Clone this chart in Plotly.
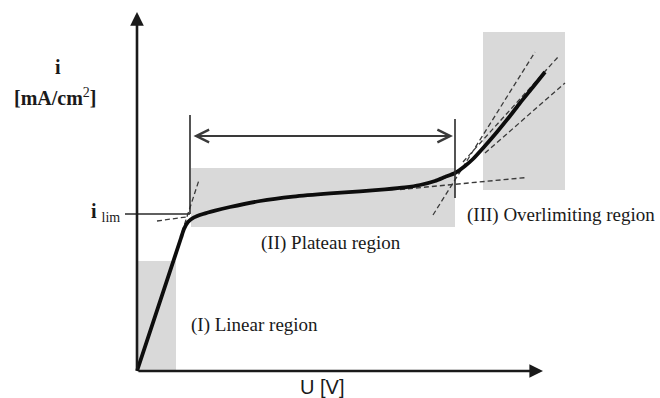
import plotly.graph_objects as go

# Current–voltage characteristic of an ion-exchange membrane (arbitrary units)
U = [0.0, 1.1, 1.175, 1.275, 1.425, 1.65, 1.95, 2.325, 3.075, 3.9, 4.825, 5.575,
     6.2, 6.7, 7.075, 7.45, 7.7, 7.95, 8.2, 8.4, 8.675, 9.0, 9.325, 9.575, 9.9, 10.2]
I = [0.0, 3.325, 3.55, 3.725, 3.84, 3.925, 4.01, 4.1, 4.25, 4.36, 4.44, 4.49,
     4.54, 4.59, 4.65, 4.75, 4.85, 4.95, 5.125, 5.3, 5.6, 5.975, 6.375, 6.7, 7.1, 7.475]

# limiting current density and the voltage limits of the plateau
I_LIM = 3.925
U_PLATEAU_START = 1.325
U_PLATEAU_END = 7.95

# shaded regions: (U from, U to, i from, i to)
region_linear = (0.0, 0.975, 0.0, 2.75)
region_plateau = (1.35, 7.95, 3.6, 5.075)
region_over = (8.65, 10.7, 4.525, 8.475)

# tangent construction lines, pairs of end points
tangent_U = [[1.125, 1.55], [0.5, 1.225], [6.575, 9.75],
             [7.4, 9.95], [8.15, 10.525], [8.7, 10.7]]
tangent_I = [[3.475, 4.775], [3.75, 3.85], [4.5375, 4.8375],
             [3.9, 7.975], [5.225, 7.85], [5.45, 7.2]]

# axis extents
U_MAX = 10.15
I_MAX = 8.975

SERIF = "Liberation Serif, Times New Roman, serif"
SANS = "Liberation Sans, Arial, sans-serif"
INK = "#1a1a1a"

fig = go.Figure()

for tu, ti in zip(tangent_U, tangent_I):
    fig.add_trace(go.Scatter(x=tu, y=ti, mode="lines", hoverinfo="skip",
                             line=dict(color="#3a3a3a", width=1.3, dash="5px,3px")))

fig.add_trace(go.Scatter(x=U, y=I, mode="lines", hoverinfo="skip",
                         line=dict(color="#0d0d0d", width=3.8, shape="spline", smoothing=0.6)))

shapes = []
for (u0, u1, i0, i1) in (region_linear, region_plateau, region_over):
    shapes.append(dict(type="rect", x0=u0, x1=u1, y0=i0, y1=i1, layer="below",
                       fillcolor="#d9d9d9", line=dict(width=0)))

# i_lim marker line and plateau boundaries
shapes.append(dict(type="line", x0=-0.3, x1=U_PLATEAU_START, y0=I_LIM, y1=I_LIM,
                   line=dict(color="#2a2a2a", width=1.4)))
shapes.append(dict(type="line", x0=U_PLATEAU_START, x1=U_PLATEAU_START, y0=I_LIM, y1=6.4,
                   line=dict(color="#2a2a2a", width=1.6)))
shapes.append(dict(type="line", x0=U_PLATEAU_END, x1=U_PLATEAU_END, y0=4.325, y1=6.3,
                   line=dict(color="#2a2a2a", width=1.6)))

annotations = []
# axes with arrow heads
annotations.append(dict(x=0, y=I_MAX, ax=0, ay=0, xref="x", yref="y", axref="x", ayref="y",
                        text="", showarrow=True, arrowhead=2, arrowsize=1.05, arrowwidth=2.6,
                        arrowcolor=INK))
annotations.append(dict(x=U_MAX, y=0, ax=0, ay=0, xref="x", yref="y", axref="x", ayref="y",
                        text="", showarrow=True, arrowhead=2, arrowsize=1.05, arrowwidth=2.6,
                        arrowcolor=INK))
# double arrow spanning the plateau
annotations.append(dict(x=7.9, y=5.875, ax=1.375, ay=5.875, xref="x", yref="y",
                        axref="x", ayref="y", text="", showarrow=True, arrowhead=5,
                        startarrowhead=5, arrowside="end+start", arrowsize=1.4,
                        startarrowsize=1.4, arrowwidth=1.8, arrowcolor="#3a3a3a"))

def label(x, y, text, size, family=SERIF, xanchor="center"):
    annotations.append(dict(x=x, y=y, xref="x", yref="y", text=text, showarrow=False,
                            xanchor=xanchor, yanchor="middle",
                            font=dict(family=family, size=size, color=INK)))

label(-1.975, 7.6, "<b>i</b>", 20)
label(-2.05, 6.85, "<b>[mA/cm</b><sup>2</sup><b>]</b>", 20)
label(-0.38, 3.97, "<b>i</b> <sub>lim</sub>", 20, xanchor="right")
label(3.05, 3.2, "(II) Plateau region", 19, xanchor="left")
label(8.2, 3.9, "(III) Overlimiting region", 19, xanchor="left")
label(1.3, 1.15, "(I) Linear region", 19, xanchor="left")
label(4.625, -0.4, "U [V]", 20, family=SANS)

fig.update_layout(
    width=660, height=398,
    margin=dict(l=0, r=0, t=0, b=0),
    paper_bgcolor="white", plot_bgcolor="white",
    showlegend=False,
    xaxis=dict(range=[-3.425, 13.075], visible=False, fixedrange=True),
    yaxis=dict(range=[-0.675, 9.275], visible=False, fixedrange=True),
    shapes=shapes, annotations=annotations,
)

fig.write_html("out.html")
